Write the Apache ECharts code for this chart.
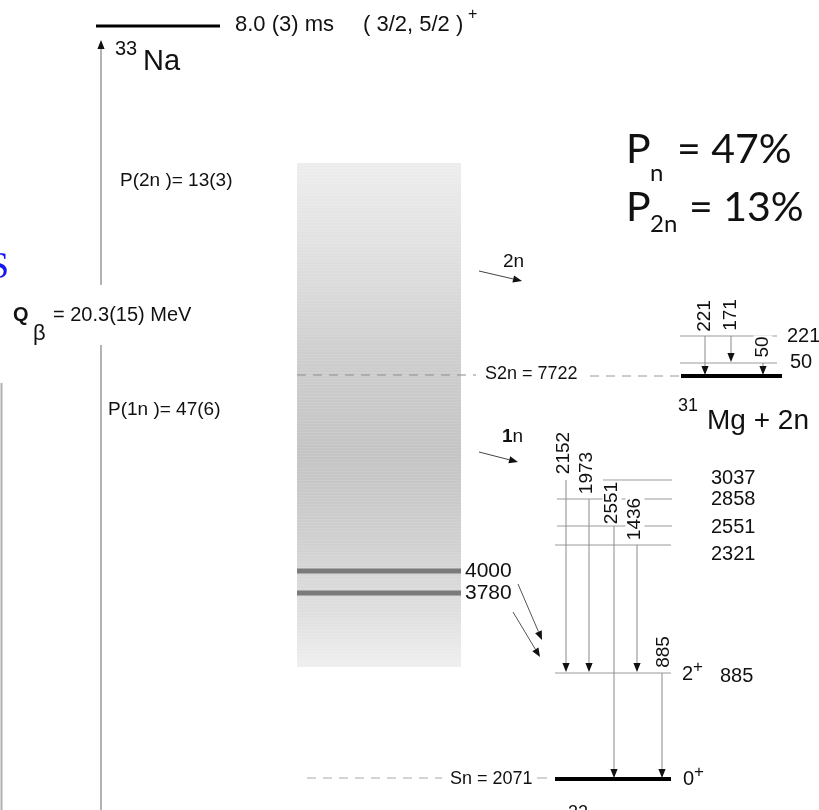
<!DOCTYPE html>
<html><head><meta charset="utf-8">
<script src="https://cdn.jsdelivr.net/npm/echarts@6/dist/echarts.min.js"></script>
<style>html,body{margin:0;padding:0;background:#fff}#c{width:819px;height:810px}</style>
</head><body><div id="c"></div>
<script>
// ---------------- data ----------------
const parentHalfLife = '8.0 (3) ms';
const parentSpin = '( 3/2, 5/2 )';
const qBetaText = '= 20.3(15) MeV';
const p2nText = 'P(2n )= 13(3)';
const p1nText = 'P(1n )= 47(6)';
const pnPercent = 47;
const p2nPercent = 13;
const s2nValue = 7722;
const snValue = 2071;
const feedingLevels = [4000, 3780];
// 31Mg levels (keV) and gammas
const mg31Levels = [0, 50, 221];
const mg31Gammas = [221, 171, 50];
const mg31GammaFrom = [221, 221, 50];
const mg31GammaTo = [0, 50, 0];
// 32Mg levels (keV) and gammas
const mg32Levels = [0, 885, 2321, 2551, 2858, 3037];
const mg32Spins = {0: '0', 885: '2'};
const mg32Gammas = [2152, 1973, 2551, 1436, 885];
const mg32GammaFrom = [3037, 2858, 2551, 2321, 885];
const mg32GammaTo = [885, 885, 0, 885, 0];

// ---------------- schematic layout (diagram units) ----------------
const levelY32 = {0: 779, 885: 673, 2321: 545, 2551: 526, 2858: 499, 3037: 480};
const levelX32 = {0: [555, 671], 885: [555, 671], 2321: [555, 671], 2551: [557, 672], 2858: [557, 672], 3037: [603, 672]};
const labelY32 = {0: 779, 885: 676, 2321: 554, 2551: 527, 2858: 499, 3037: 478};
const gammaX32 = [566, 589, 614, 637, 662];
const gammaLabelY32 = [453, 473, 503, 519, 652];
const levelY31 = {0: 376, 50: 363, 221: 336};
const gammaX31 = [705, 731, 763];
const gammaLabelY31 = [316, 315, 347];
const feedY = {4000: 571, 3780: 593};

const FONT = '"Liberation Sans", Arial, sans-serif';

// ---- build primitive lists ----
const lines = [];   // {x1,y1,x2,y2,c,w,dash}
const arrows = [];  // {x1,y1,x2,y2,c,w,h}
const texts = [];   // {x,y,t,s,...}

// parent level
lines.push({x1: 96, y1: 26, x2: 220, y2: 26, c: '#000', w: 3});
texts.push({x: 235, y: 25, t: parentHalfLife, s: 22});
texts.push({x: 363, y: 25, t: parentSpin, s: 22});
texts.push({x: 468, y: 15, t: '+', s: 16});
texts.push({x: 115, y: 49, t: '33', s: 20});
texts.push({x: 143, y: 62, t: 'Na', s: 29});
// Q beta arrow
lines.push({x1: 101, y1: 810, x2: 101, y2: 345, c: '#9a9a9a', w: 1.5});
arrows.push({x1: 101, y1: 285, x2: 101, y2: 40, c: '#9a9a9a', w: 1.5, h: '#111'});
texts.push({x: 13, y: 315, t: 'Q', s: 20, b: true});
texts.push({x: 33, y: 334, t: 'β', s: 22});
texts.push({x: 53, y: 315, t: qBetaText, s: 20});
texts.push({x: 120, y: 181, t: p2nText, s: 19});
texts.push({x: 108, y: 410, t: p1nText, s: 19});

// S2n / Sn thresholds
lines.push({x1: 297, y1: 375, x2: 476, y2: 375, c: '#8c8c8c', w: 1, dash: [9, 7]});
lines.push({x1: 590, y1: 376, x2: 679, y2: 376, c: '#9a9a9a', w: 1, dash: [9, 7]});
texts.push({x: 485, y: 374, t: 'S2n = ' + s2nValue, s: 18});
lines.push({x1: 307, y1: 778, x2: 442, y2: 778, c: '#a8a8a8', w: 1, dash: [9, 7]});
lines.push({x1: 537, y1: 778, x2: 547, y2: 778, c: '#a8a8a8', w: 1});
texts.push({x: 450, y: 779, t: 'Sn = ' + snValue, s: 18});

// feeding level labels and arrows
feedingLevels.forEach(e => texts.push({x: 465, y: feedY[e], t: String(e), s: 21}));
arrows.push({x1: 518, y1: 584, x2: 542, y2: 640, c: '#555', w: 1, h: '#111'});
arrows.push({x1: 513, y1: 612, x2: 540, y2: 657, c: '#555', w: 1, h: '#111'});
arrows.push({x1: 479, y1: 271, x2: 522, y2: 281, c: '#444', w: 1, h: '#111'});
arrows.push({x1: 479, y1: 452, x2: 518, y2: 462, c: '#444', w: 1, h: '#111'});
texts.push({x: 503, y: 262, t: '2n', s: 19});
texts.push({x: 502, y: 437, t: '{b|1}n', s: 19, rich: true});

// 31Mg
mg31Levels.forEach(e => {
  if (e === 0) lines.push({x1: 681, y1: levelY31[e], x2: 782, y2: levelY31[e], c: '#000', w: 4});
  else lines.push({x1: 680, y1: levelY31[e], x2: 777, y2: levelY31[e], c: '#9a9a9a', w: 1});
});
texts.push({x: 787, y: 336, t: String(mg31Levels[2]), s: 20});
texts.push({x: 790, y: 362, t: String(mg31Levels[1]), s: 20});
mg31Gammas.forEach((g, i) => {
  arrows.push({x1: gammaX31[i], y1: levelY31[mg31GammaFrom[i]], x2: gammaX31[i], y2: levelY31[mg31GammaTo[i]] - 1, c: '#8a8a8a', w: 1, h: '#111'});
  texts.push({x: gammaX31[i], y: gammaLabelY31[i], t: String(g), s: 19, rot: true});
});
texts.push({x: 678, y: 406, t: '31', s: 18});
texts.push({x: 707, y: 421, t: 'Mg + 2n', s: 28});

// 32Mg
mg32Levels.forEach(e => {
  const xs = levelX32[e];
  if (e === 0) lines.push({x1: xs[0], y1: levelY32[e], x2: xs[1], y2: levelY32[e], c: '#000', w: 4});
  else lines.push({x1: xs[0], y1: levelY32[e], x2: xs[1], y2: levelY32[e], c: '#9a9a9a', w: 1});
});
mg32Gammas.forEach((g, i) => {
  arrows.push({x1: gammaX32[i], y1: levelY32[mg32GammaFrom[i]], x2: gammaX32[i], y2: levelY32[mg32GammaTo[i]] - 1, c: '#8a8a8a', w: 1, h: '#111'});
});
mg32Gammas.forEach((g, i) => texts.push({x: gammaX32[i] - 2 + (i === 4 ? 4 : 0), y: gammaLabelY32[i], t: String(g), s: 19, rot: true}));
[3037, 2858, 2551, 2321].forEach(e => texts.push({x: 711, y: labelY32[e], t: String(e), s: 20}));
texts.push({x: 682, y: 674, t: mg32Spins[885], s: 20});
texts.push({x: 693, y: 667, t: '+', s: 17});
texts.push({x: 720, y: 676, t: String(mg32Levels[1]), s: 20});
texts.push({x: 683, y: 779, t: mg32Spins[0], s: 20});
texts.push({x: 694, y: 772, t: '+', s: 17});
texts.push({x: 568, y: 813, t: '32', s: 18});

// P_n summary
const CAL = 'Lato, "Open Sans", sans-serif';
texts.push({x: 626, y: 150, t: 'P', s: 41, f: CAL});
texts.push({x: 650, y: 173, t: 'n', s: 24, f: CAL});
texts.push({x: 677, y: 150, t: '= ' + pnPercent + '%', s: 41, f: CAL});
texts.push({x: 626, y: 208, t: 'P', s: 41, f: CAL});
texts.push({x: 650, y: 224, t: '2n', s: 24, f: CAL});
texts.push({x: 689, y: 208, t: '= ' + p2nPercent + '%', s: 41, f: CAL});

// slide remnants on the left edge
texts.push({x: -12, y: 268, t: 'S', s: 38, f: '"Liberation Serif", serif', c: '#1515f0'});
lines.push({x1: 1.5, y1: 383, x2: 1.5, y2: 810, c: '#b0b0b0', w: 2});

// ---------------- chart ----------------
const chart = echarts.init(document.getElementById('c'), null, {renderer: 'canvas'});
const idx = arr => arr.map((_, i) => [i]);

chart.setOption({
  animation: false,
  backgroundColor: '#fff',
  grid: {left: 0, right: 0, top: 0, bottom: 0},
  xAxis: {type: 'value', min: 0, max: 819, show: false},
  yAxis: {type: 'value', min: 0, max: 810, inverse: true, show: false},
  series: [
    { // continuum box
      type: 'custom', silent: true, data: [[297, 163, 461, 667]],
      renderItem: (p, api) => {
        const a = api.coord([api.value(0), api.value(1)]);
        const b = api.coord([api.value(2), api.value(3)]);
        const children = [{
          type: 'rect', shape: {x: a[0], y: a[1], width: b[0] - a[0], height: b[1] - a[1]},
          style: {fill: {type: 'linear', x: 0, y: 0, x2: 0, y2: 1, colorStops: [
            {offset: 0, color: '#ededed'}, {offset: 0.18, color: '#e0e0e0'},
            {offset: 0.4, color: '#cdcdcd'}, {offset: 0.58, color: '#c4c4c4'},
            {offset: 0.74, color: '#cfcfcf'}, {offset: 0.9, color: '#e0e0e0'},
            {offset: 1, color: '#efefef'}]}}
        }];
        for (let y = a[1] + 2; y < b[1]; y += 3) {
          children.push({type: 'rect', shape: {x: a[0], y: y, width: b[0] - a[0], height: 1},
            style: {fill: 'rgba(255,255,255,0.1)'}});
        }
        return {type: 'group', children};
      }
    },
    { // feeding bands
      type: 'custom', silent: true, data: feedingLevels.map(e => [e]),
      renderItem: (p, api) => {
        const y = feedY[api.value(0)];
        const a = api.coord([297, y - 2.5]);
        const b = api.coord([461, y + 2.5]);
        return {type: 'rect', shape: {x: a[0], y: a[1], width: b[0] - a[0], height: b[1] - a[1]},
          style: {fill: '#7b7b7b'}};
      }
    },
    { // lines
      type: 'custom', silent: true, data: idx(lines),
      renderItem: (p, api) => {
        const L = lines[api.value(0)];
        const a = api.coord([L.x1, L.y1]), b = api.coord([L.x2, L.y2]);
        return {type: 'line', shape: {x1: a[0], y1: a[1], x2: b[0], y2: b[1]},
          style: {stroke: L.c, lineWidth: L.w, lineDash: L.dash || null}};
      }
    },
    { // arrows
      type: 'custom', silent: true, data: idx(arrows),
      renderItem: (p, api) => {
        const A = arrows[api.value(0)];
        const a = api.coord([A.x1, A.y1]), b = api.coord([A.x2, A.y2]);
        const dx = b[0] - a[0], dy = b[1] - a[1], len = Math.hypot(dx, dy);
        const ux = dx / len, uy = dy / len, nx = -uy, ny = ux;
        const H = 9, W = 3.6;
        const bx = b[0] - ux * H, by = b[1] - uy * H;
        return {type: 'group', children: [
          {type: 'line', shape: {x1: a[0], y1: a[1], x2: bx, y2: by}, style: {stroke: A.c, lineWidth: A.w}},
          {type: 'polygon', shape: {points: [[b[0], b[1]], [bx + nx * W, by + ny * W], [bx - nx * W, by - ny * W]]},
            style: {fill: A.h}}
        ]};
      }
    },
    { // texts
      type: 'custom', silent: true, data: idx(texts),
      renderItem: (p, api) => {
        const T = texts[api.value(0)];
        const c = api.coord([T.x, T.y]);
        const style = {
          text: T.t, fill: T.c || '#111',
          font: (T.b ? 'bold ' : '') + T.s + 'px ' + (T.f || FONT),
          align: T.rot ? 'center' : 'left', verticalAlign: 'middle'
        };
        if (T.rich) style.rich = {b: {fontWeight: 'bold', fontSize: T.s, fontFamily: FONT, fill: '#111'}};
        if (T.rot) { style.backgroundColor = '#fff'; style.padding = [0, 1]; }
        return {type: 'text', x: c[0], y: c[1], rotation: T.rot ? Math.PI / 2 : 0, style};
      }
    }
  ]
});
</script></body></html>
